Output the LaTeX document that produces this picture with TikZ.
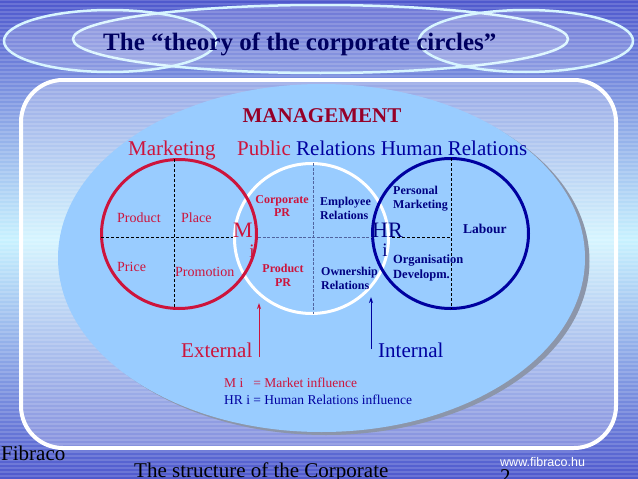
\documentclass[tikz,border=0pt]{standalone}
\usepackage{fontspec}
\setmainfont{Liberation Serif}
\newfontfamily\arialf{Liberation Sans}
\usetikzlibrary{arrows.meta,shapes.geometric}
\definecolor{bgdark}{RGB}{78,88,205}
\definecolor{bglight}{RGB}{200,242,255}
\definecolor{ellfill}{RGB}{153,204,255}
\definecolor{shadowc}{RGB}{140,150,170}
\definecolor{titlec}{RGB}{0,0,96}
\definecolor{mgmtc}{RGB}{150,0,40}
\definecolor{redc}{RGB}{205,20,60}
\definecolor{bluec}{RGB}{0,0,160}
\definecolor{dblue}{RGB}{0,0,130}
\definecolor{ringc}{RGB}{215,245,255}
\definecolor{gridc}{RGB}{80,100,160}
\newcommand{\myfs}[1]{\fontsize{#1}{#1}\selectfont}
\begin{document}
\begin{tikzpicture}[x=1pt,y=-1pt,
  txt/.style={inner sep=0pt, anchor=base west},
  ctxt/.style={inner sep=0pt, anchor=base},
  bigred/.style={txt, text=redc, font=\myfs{21}},
  bigblue/.style={txt, text=bluec, font=\myfs{21}},
  quad/.style={txt, text=redc, font=\myfs{14}},
  prsmall/.style={ctxt, text=redc, font=\bfseries\myfs{12}},
  hrsmall/.style={txt, text=dblue, font=\bfseries\myfs{12}},
  ring/.style={draw, ellipse, line width=3pt, inner sep=0pt},
  cross/.style={black, line width=0.9pt, dash pattern=on 3pt off 2pt},
  thincross/.style={gridc, line width=0.7pt, dash pattern=on 3pt off 1.5pt},
  pointer/.style={line width=1pt, -{Stealth[length=6pt,width=4pt]}},
  titleell/.style={draw=ringc, line width=2.5pt, fill=white, fill opacity=0.18}
]
\useasboundingbox (0,0) rectangle (638,479);
\clip (0,0) rectangle (638,479);
% background
\shade[top color=bgdark, bottom color=bgdark, middle color=bglight] (0,0) rectangle (638,479);
\foreach \yy in {0,4,...,476} \draw[white, opacity=0.15, line width=1.5pt] (0,\yy) -- (638,\yy);
% title ellipses
\draw[titleell] (320.5,39) ellipse [x radius=247.5, y radius=34];
\draw[titleell] (110,41) ellipse [x radius=106, y radius=31];
\draw[titleell] (526,41) ellipse [x radius=107, y radius=31];
\node[txt, text=titlec, font=\bfseries\myfs{25}] (title) at (103,50) {The “theory of the corporate circles”};
% panel
\draw[white, line width=4pt, fill=white, fill opacity=0.25, rounded corners=42pt] (21,80) rectangle (616,448);
% big ellipse with shadow
\fill[shadowc] (326,261) ellipse [x radius=263.5, y radius=174];
\fill[ellfill] (321.5,258) ellipse [x radius=263.5, y radius=174];
\node[ctxt, text=mgmtc, font=\bfseries\myfs{21}] (mgmt) at (322,122) {MANAGEMENT};
\node[bigred] (mkt) at (128,155) {Marketing};
\node[bigred] (pub) at (237,155) {Public};
\node[bigblue] (rel) at (296,155) {Relations Human Relations};
% circles
\node[ring, draw=white, minimum width=154pt, minimum height=150pt] (prc) at (311.5,238.5) {};
\node[ring, draw=redc, minimum width=155pt, minimum height=149pt] (mkc) at (179,234) {};
\node[ring, draw=bluec, minimum width=156pt, minimum height=150pt] (hrc) at (450.5,233.5) {};
% dashed crosses
\draw[cross] (174,159) -- (174,309);
\draw[cross] (101,237) -- (233,237);
\draw[thincross] (313,163) -- (313,314);
\draw[thincross] (258,237) -- (372,237);
\draw[cross] (451,158) -- (451,309);
\draw[cross] (392,237) -- (451,237);
% marketing quadrants
\node[quad] (prod) at (117,222) {Product};
\node[quad] (place) at (181,222) {Place};
\node[quad] (price) at (117,271) {Price};
\node[quad] (promo) at (175,276) {Promotion};
\node[txt, text=redc, font=\myfs{22}] (mi) at (233,237) {M};
\node[ctxt, text=redc, font=\myfs{19}] (mii) at (252,257.5) {i};
% PR quadrants
\node[prsmall] (corp1) at (282,203) {Corporate};
\node[prsmall] (corp2) at (282,216) {PR};
\node[prsmall] (ppr1) at (283,272) {Product};
\node[prsmall] (ppr2) at (283,286) {PR};
\node[hrsmall] (emp1) at (320,205.5) {Employee};
\node[hrsmall] (emp2) at (320,219) {Relations};
\node[hrsmall] (own1) at (321,275) {Ownership};
\node[hrsmall] (own2) at (321,289) {Relations};
% HR quadrants
\node[hrsmall] (pers1) at (393,194) {Personal};
\node[hrsmall] (pers2) at (393,208) {Marketing};
\node[txt, text=dblue, font=\myfs{22}] (hri) at (372,237) {HR};
\node[ctxt, text=dblue, font=\myfs{19}] (hrii) at (385,256) {i};
\node[txt, text=dblue, font=\bfseries\myfs{13.5}] (lab) at (463,233) {Labour};
\node[hrsmall, font=\bfseries\myfs{12.5}] (org1) at (393,263) {Organisation};
\node[hrsmall, font=\bfseries\myfs{12.5}] (org2) at (393,278) {Developm.};
% external / internal
\node[bigred] (ext) at (181,357) {External};
\node[bigblue] (int) at (378,357) {Internal};
\coordinate (extfoot) at (259,357);
\coordinate (exttip) at (259,303);
\coordinate (intfoot) at (371,349);
\coordinate (inttip) at (371,297);
\draw[pointer, redc] (extfoot) -- (exttip);
\draw[pointer, bluec] (intfoot) -- (inttip);
% legend
\node[txt, text=redc, font=\myfs{13.5}] (leg1) at (224,387) {M i\ \ \ = Market influence};
\node[txt, text=bluec, font=\myfs{13.5}] (leg2) at (224,404) {HR i = Human Relations influence};
% footer
\node[txt, text=black, font=\myfs{21}] (fib) at (1,460) {Fibraco};
\node[txt, text=black, font=\myfs{21}] (struct) at (134,477) {The structure of the Corporate};
\node[txt, text=black, font=\myfs{21}] (pnum) at (500,483) {2};
\node[txt, text=white, font=\arialf\myfs{12.5}] (www) at (500,466) {www.fibraco.hu};
\end{tikzpicture}
\end{document}
